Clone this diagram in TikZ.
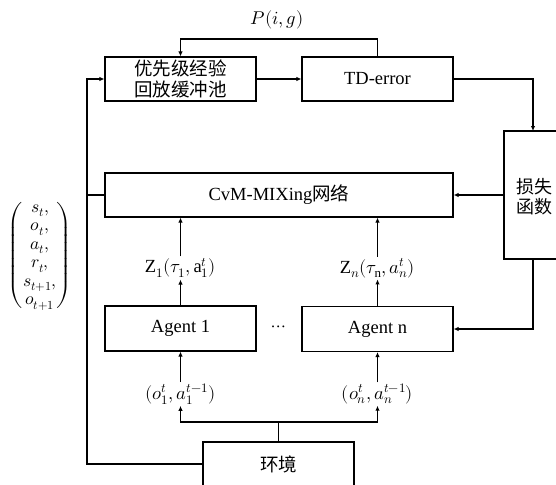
\documentclass[tikz,border=0pt]{standalone}
\usepackage{amsmath}
\usepackage{fontspec}
\usepackage{unicode-math}
\setmainfont{Liberation Serif}
\setmathfont{Latin Modern Math}
\newfontfamily\cjk{Noto Sans CJK SC}
\usetikzlibrary{arrows.meta}
\begin{document}
\begin{tikzpicture}[x=1pt,y=-1pt,
  box/.style={draw,line width=1.2pt,inner sep=0pt,minimum width=151pt,minimum height=44pt,
    align=center,font=\fontsize{18.5}{21}\selectfont},
  arr/.style={-{Latex[length=5pt,width=4.5pt]}},
  ln/.style={line width=1.2pt},
  lbl/.style={inner sep=1.5pt,font=\fontsize{18.5}{22}\selectfont}]
\useasboundingbox (0,0) rectangle (556,484);
% boxes
\node[box] (buf) at (180.5,79) {\cjk 优先级经验\\\cjk 回放缓冲池};
\node[box] (td) at (377.5,79) {TD-error};
\node[box,minimum width=348pt] (mix) at (279,195) {CvM-MIXing{\cjk 网络}};
\node[box,minimum width=96pt,minimum height=128pt] (loss) at (552,195) {};
\node[inner sep=0pt,align=center,font=\fontsize{18}{20}\selectfont] (losstxt) at (534,197) {\cjk 损失\\\cjk 函数};
\node[box,minimum height=45pt] (ag1) at (180.5,328.5) {Agent 1};
\node[box,minimum height=45pt] (agn) at (377.5,329) {Agent n};
\node[box] (env) at (278.5,464) {\cjk 环境};
% labels
\node[lbl] (p) at (277,20) {$P(i,g)$};
\node[lbl] (z1) at (180.5,268) {$\mathrm{Z}_1(\tau_1,\mathrm{a}_1^t)$};
\node[lbl] (zn) at (377.5,268) {$\mathrm{Z}_n(\tau_{\mathrm{n}},a_n^t)$};
\node[lbl] (o1) at (180.5,394) {$(o_1^t,a_1^{t-1})$};
\node[lbl] (on) at (377.5,394) {$(o_n^t,a_n^{t-1})$};
\node[lbl] (dots) at (279,329) {$\cdots$};
\node[inner sep=0pt,font=\fontsize{17.5}{18.5}\selectfont] (vec) at (40,255)
  {$\begin{pmatrix} s_t,\\ o_t,\\ a_t,\\ r_t,\\ s_{t+1},\\ o_{t+1}\end{pmatrix}$};
% coordinates
\coordinate (loopy) at (0,39);
\coordinate (lt) at (533,131);
\coordinate (lb) at (533,259);
\coordinate (br) at (278.5,422);
\coordinate (lx) at (87,0);
% connectors
\draw[ln,arr] (td.north) -- (td.north |- loopy) -| (buf.north);
\draw[ln,arr] (buf) -- (td);
\draw[ln,arr] (td.east) -| (lt);
\draw[ln,arr] (loss.west |- mix.east) -- (mix.east);
\draw[ln,arr] (lb) |- (agn.east);
\draw[ln,arr] (z1.north) -- (z1.north |- mix.south);
\draw[ln,arr] (zn.north) -- (zn.north |- mix.south);
\draw[ln,arr] (ag1.north) -- (z1.south);
\draw[ln,arr] (agn.north) -- (zn.south);
\draw[ln,arr] (o1.north) -- (ag1.south);
\draw[ln,arr] (on.north) -- (agn.south);
\draw[ln] (env.north) -- (br);
\draw[ln,arr] (br) -| (o1.south);
\draw[ln,arr] (br) -| (on.south);
\draw[ln,arr] (env.west) -| (lx |- buf.west) -- (buf.west);
\draw[ln] (lx |- mix.west) -- (mix.west);
\end{tikzpicture}
\end{document}
